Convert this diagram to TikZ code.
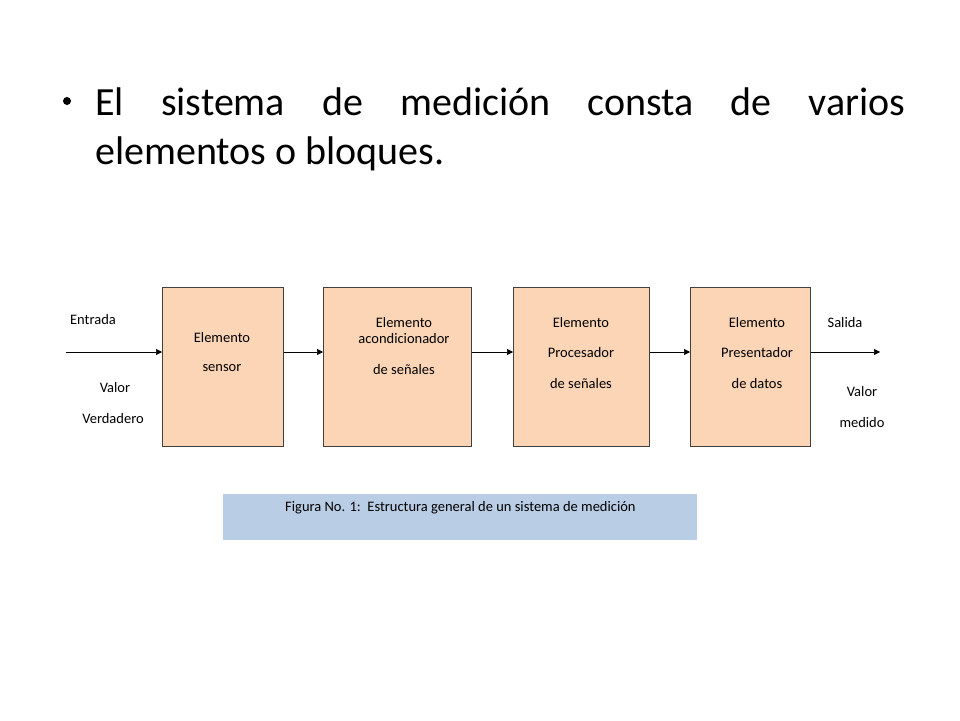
\documentclass[tikz,border=0pt]{standalone}
\usepackage{fontspec}
\setmainfont{Carlito}
\usetikzlibrary{arrows.meta}
\definecolor{peach}{HTML}{FBD5B5}
\definecolor{capblue}{HTML}{B9CDE5}
\begin{document}
\begin{tikzpicture}[x=1pt,y=-1pt,
  blk/.style={draw=black!75,fill=peach,line width=0.6pt},
  lbl/.style={font=\fontsize{14.5}{16}\selectfont,inner sep=0pt},
  arr/.style={-{Triangle[length=6pt,width=6pt]},line width=0.6pt}]
\useasboundingbox[fill=white] (0,0) rectangle (960,720);
\fill (67,101) circle (4);
\node[anchor=base west,inner sep=0pt,font=\fontsize{40}{49}\selectfont] (title) at (95,115)
 {\makebox[810pt][s]{El sistema de medición consta de varios}};
\node[anchor=base west,inner sep=0pt,font=\fontsize{40}{49}\selectfont] (title2) at (95,164)
 {elementos o bloques.};
\node[blk,minimum width=121pt,minimum height=159pt,anchor=north west] (b1) at (162,287) {};
\node[blk,minimum width=148pt,minimum height=159pt,anchor=north west] (b2) at (323,287) {};
\node[blk,minimum width=136pt,minimum height=159pt,anchor=north west] (b3) at (513,287) {};
\node[blk,minimum width=120pt,minimum height=159pt,anchor=north west] (b4) at (690,287) {};
\node[lbl] (t11) at (222,338) {Elemento};
\node[lbl] (t12) at (222,368) {sensor};
\node[lbl] (t21) at (404,323) {Elemento};
\node[lbl] (t22) at (404,339) {acondicionador};
\node[lbl] (t23) at (404,370) {de señales};
\node[lbl] (t31) at (581,323) {Elemento};
\node[lbl] (t32) at (581,353) {Procesador};
\node[lbl] (t33) at (581,384) {de señales};
\node[lbl] (t41) at (757,323) {Elemento};
\node[lbl] (t42) at (757,353) {Presentador};
\node[lbl] (t43) at (757,384) {de datos};
\node[lbl] (in1) at (93,320) {Entrada};
\node[lbl] (in2) at (115,388) {Valor};
\node[lbl] (in3) at (113,419) {Verdadero};
\node[lbl] (o1) at (845,323) {Salida};
\node[lbl] (o2) at (862,392) {Valor};
\node[lbl] (o3) at (862,423) {medido};
\coordinate (src) at (66,352);
\coordinate (dst) at (880,352);
\draw[arr] (src) -- (src -| b1.west);
\draw[arr] (b1.east |- src) -- (b2.west |- src);
\draw[arr] (b2.east |- src) -- (b3.west |- src);
\draw[arr] (b3.east |- src) -- (b4.west |- src);
\draw[arr] (b4.east |- src) -- (dst);
\node[fill=capblue,minimum width=474pt,minimum height=46pt,anchor=north west,inner sep=0pt] (cap) at (223,494) {};
\node[lbl,anchor=west] (capt) at (285,508) {Figura No. 1:\ \ Estructura general de un sistema de medición};
\end{tikzpicture}
\end{document}
